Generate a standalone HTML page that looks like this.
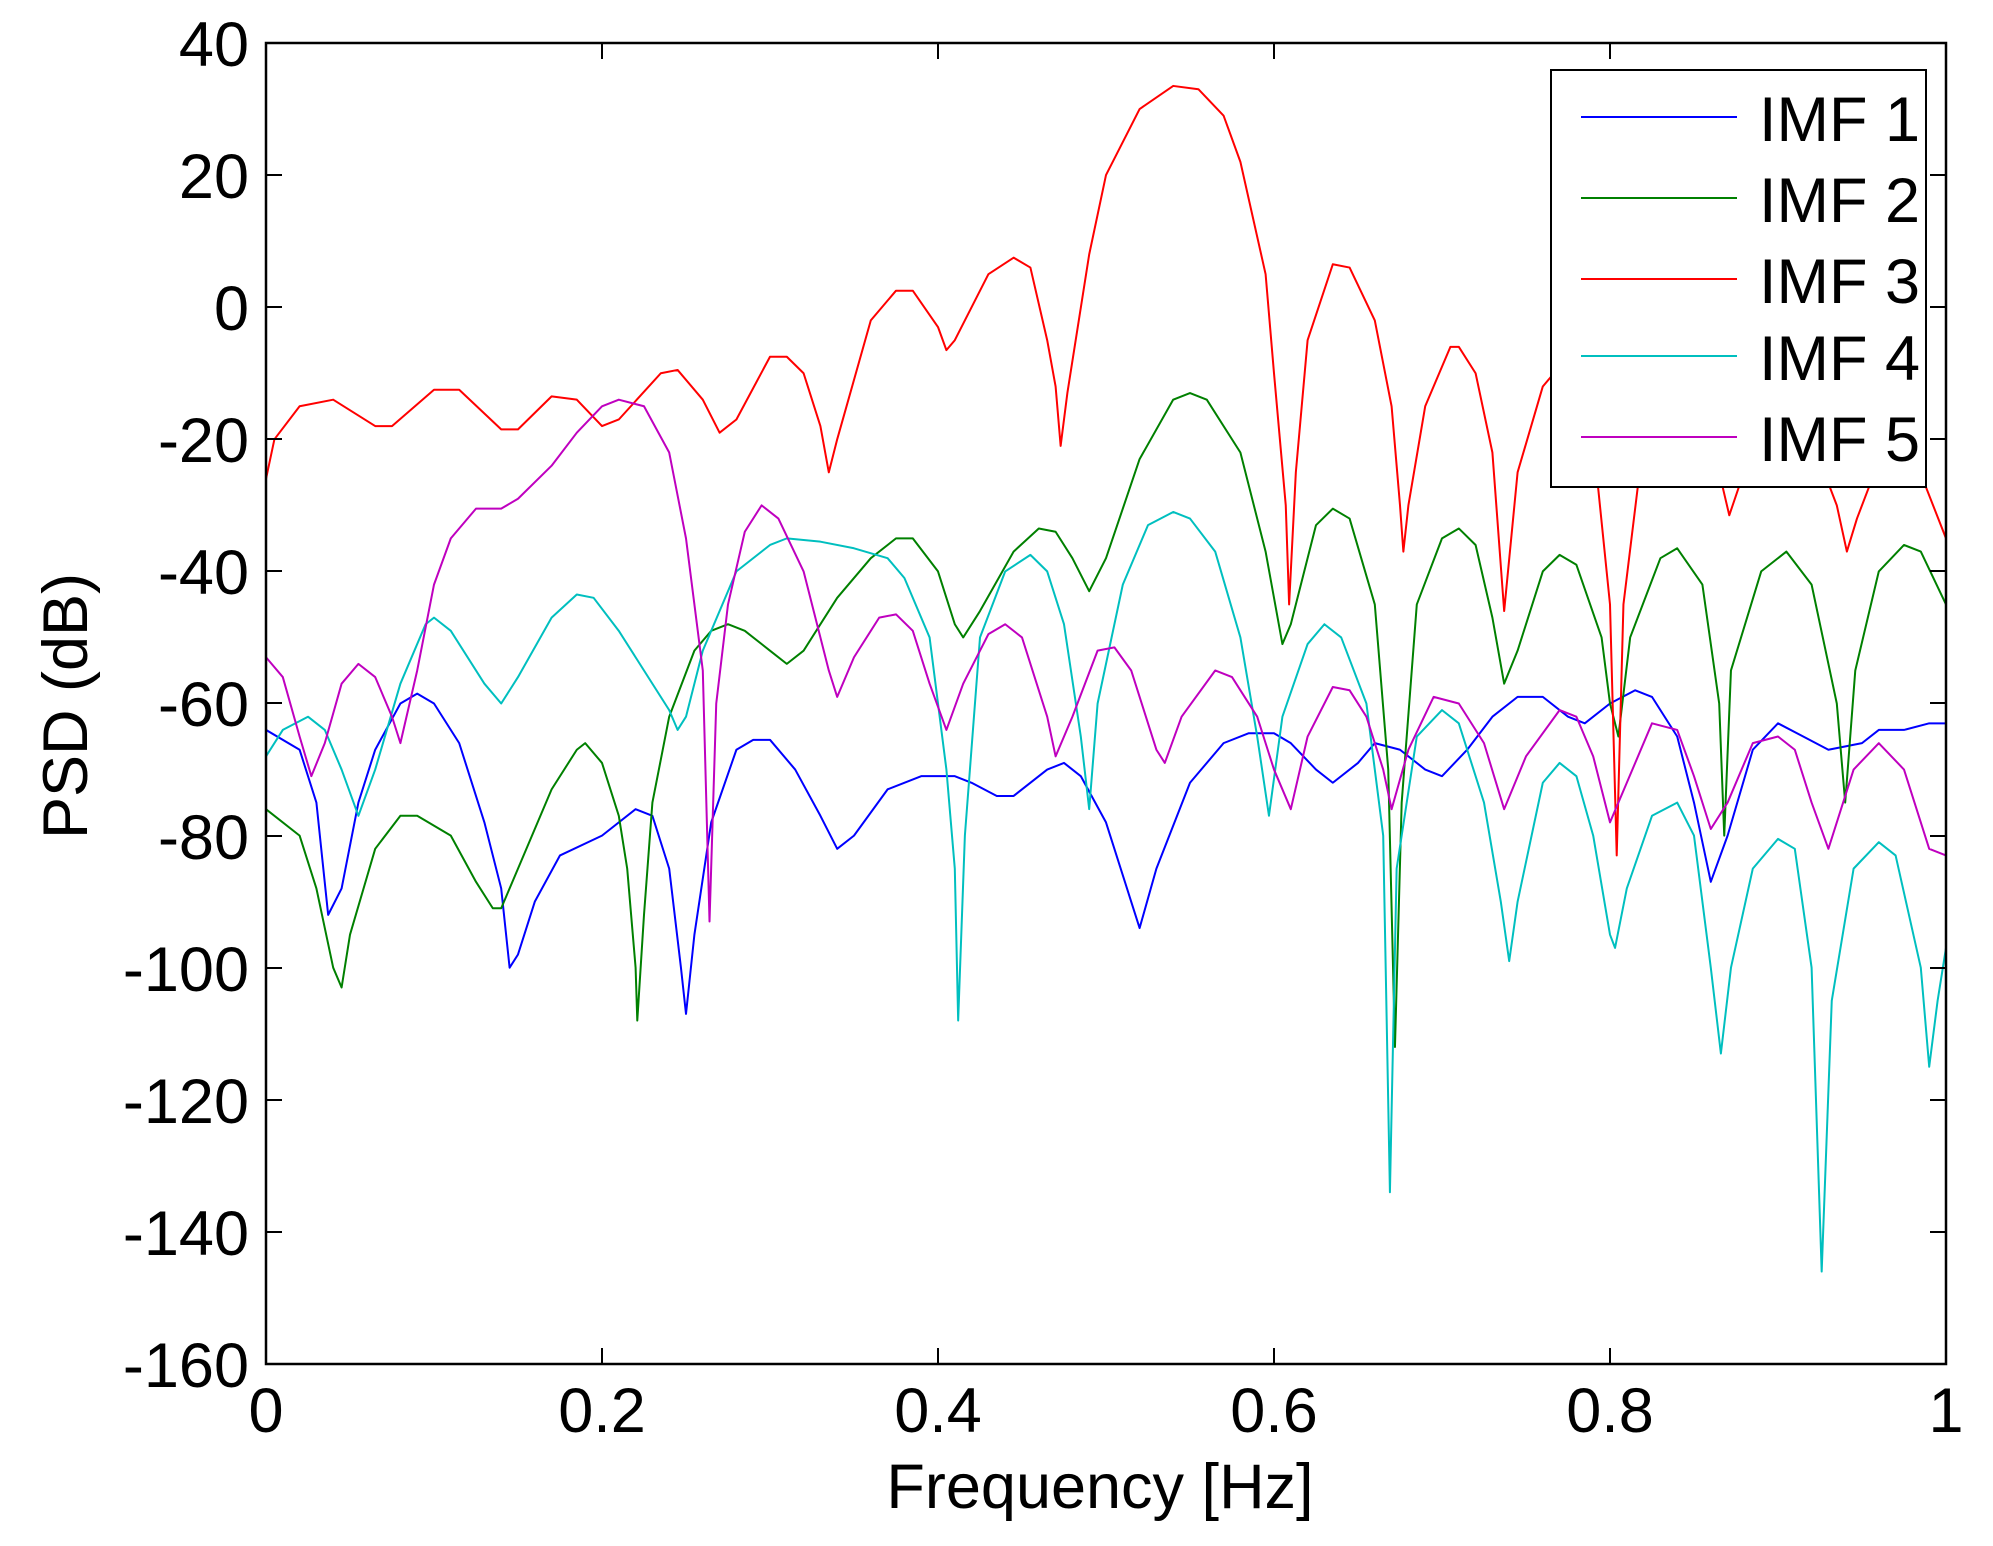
<!DOCTYPE html>
<html><head><meta charset="utf-8"><style>
html,body{margin:0;padding:0;background:#fff;}
svg{display:block;}
text{font-family:"Liberation Sans",Arial,sans-serif;fill:#000;}
</style></head><body>
<svg width="1993" height="1546" viewBox="0 0 1993 1546" xmlns="http://www.w3.org/2000/svg">
<rect width="1993" height="1546" fill="#fff"/>
<defs><clipPath id="c"><rect x="266" y="43" width="1680" height="1321"/></clipPath></defs>
<g clip-path="url(#c)">
<g transform="matrix(1680,0,0,-6.605,266,307.2)" fill="none" stroke-width="2" stroke-linejoin="round">
<polyline vector-effect="non-scaling-stroke" stroke="#0000ff" points="0,-64 0.02,-67 0.03,-75 0.037,-92 0.045,-88 0.055,-75 0.065,-67 0.08,-60 0.09,-58.5 0.1,-60 0.115,-66 0.13,-78 0.14,-88 0.145,-100 0.15,-98 0.16,-90 0.175,-83 0.2,-80 0.22,-76 0.23,-77 0.24,-85 0.247,-100 0.25,-107 0.255,-95 0.265,-78 0.28,-67 0.29,-65.5 0.3,-65.5 0.315,-70 0.33,-77 0.34,-82 0.35,-80 0.37,-73 0.39,-71 0.41,-71 0.42,-72 0.435,-74 0.445,-74 0.465,-70 0.475,-69 0.485,-71 0.5,-78 0.515,-90 0.52,-94 0.53,-85 0.55,-72 0.57,-66 0.585,-64.5 0.6,-64.5 0.61,-66 0.625,-70 0.635,-72 0.65,-69 0.66,-66 0.675,-67 0.69,-70 0.7,-71 0.715,-67 0.73,-62 0.745,-59 0.76,-59 0.775,-62 0.785,-63 0.8,-60 0.815,-58 0.825,-59 0.84,-65 0.85,-75 0.86,-87 0.87,-80 0.885,-67 0.9,-63 0.915,-65 0.93,-67 0.95,-66 0.96,-64 0.975,-64 0.99,-63 1,-63"/>
<polyline vector-effect="non-scaling-stroke" stroke="#008000" points="0,-76 0.02,-80 0.03,-88 0.04,-100 0.045,-103 0.05,-95 0.065,-82 0.08,-77 0.09,-77 0.11,-80 0.125,-87 0.135,-91 0.14,-91 0.15,-85 0.17,-73 0.185,-67 0.19,-66 0.2,-69 0.21,-77 0.215,-85 0.22,-100 0.221,-108 0.225,-92 0.23,-75 0.24,-62 0.255,-52 0.265,-49 0.275,-48 0.285,-49 0.3,-52 0.31,-54 0.32,-52 0.34,-44 0.36,-38 0.375,-35 0.385,-35 0.4,-40 0.41,-48 0.415,-50 0.425,-46 0.445,-37 0.46,-33.5 0.47,-34 0.48,-38 0.49,-43 0.5,-38 0.52,-23 0.54,-14 0.55,-13 0.56,-14 0.58,-22 0.595,-37 0.605,-51 0.61,-48 0.625,-33 0.635,-30.5 0.645,-32 0.66,-45 0.668,-70 0.672,-112 0.676,-75 0.685,-45 0.7,-35 0.71,-33.5 0.72,-36 0.73,-47 0.737,-57 0.745,-52 0.76,-40 0.77,-37.5 0.78,-39 0.795,-50 0.8,-60 0.805,-65 0.812,-50 0.83,-38 0.84,-36.5 0.855,-42 0.865,-60 0.868,-80 0.872,-55 0.89,-40 0.905,-37 0.92,-42 0.935,-60 0.94,-75 0.946,-55 0.96,-40 0.975,-36 0.985,-37 1,-45"/>
<polyline vector-effect="non-scaling-stroke" stroke="#ff0000" points="0,-26 0.005,-20 0.02,-15 0.04,-14 0.065,-18 0.075,-18 0.1,-12.5 0.115,-12.5 0.14,-18.5 0.15,-18.5 0.17,-13.5 0.185,-14 0.2,-18 0.21,-17 0.235,-10 0.245,-9.5 0.26,-14 0.27,-19 0.28,-17 0.3,-7.5 0.31,-7.5 0.32,-10 0.33,-18 0.335,-25 0.34,-20 0.36,-2 0.375,2.5 0.385,2.5 0.4,-3 0.405,-6.5 0.41,-5 0.43,5 0.445,7.5 0.455,6 0.465,-5 0.47,-12 0.473,-21 0.477,-13 0.49,8 0.5,20 0.52,30 0.54,33.5 0.555,33 0.57,29 0.58,22 0.595,5 0.6,-10 0.607,-30 0.609,-45 0.613,-25 0.62,-5 0.635,6.5 0.645,6 0.66,-2 0.67,-15 0.675,-30 0.677,-37 0.68,-30 0.69,-15 0.705,-6 0.71,-6 0.72,-10 0.73,-22 0.737,-46 0.745,-25 0.76,-12 0.77,-9 0.78,-10 0.79,-20 0.8,-45 0.804,-83 0.808,-45 0.82,-20 0.835,-12 0.85,-15 0.865,-25 0.871,-31.5 0.877,-27 0.9,-15 0.92,-20 0.935,-30 0.941,-37 0.947,-32 0.965,-20 0.98,-22 1,-35"/>
<polyline vector-effect="non-scaling-stroke" stroke="#00bfbf" points="0,-68 0.01,-64 0.025,-62 0.035,-64 0.045,-70 0.055,-77 0.065,-70 0.08,-57 0.095,-48 0.1,-47 0.11,-49 0.13,-57 0.14,-60 0.15,-56 0.17,-47 0.185,-43.5 0.195,-44 0.21,-49 0.225,-55 0.24,-61 0.245,-64 0.25,-62 0.26,-52 0.28,-40 0.3,-36 0.31,-35 0.33,-35.5 0.35,-36.5 0.37,-38 0.38,-41 0.395,-50 0.405,-70 0.41,-85 0.412,-108 0.416,-80 0.425,-50 0.44,-40 0.455,-37.5 0.465,-40 0.475,-48 0.485,-65 0.49,-76 0.495,-60 0.51,-42 0.525,-33 0.54,-31 0.55,-32 0.565,-37 0.58,-50 0.59,-65 0.597,-77 0.605,-62 0.62,-51 0.63,-48 0.64,-50 0.655,-60 0.665,-80 0.669,-134 0.673,-85 0.685,-65 0.7,-61 0.71,-63 0.725,-75 0.735,-90 0.74,-99 0.745,-90 0.76,-72 0.77,-69 0.78,-71 0.79,-80 0.8,-95 0.803,-97 0.81,-88 0.825,-77 0.84,-75 0.85,-80 0.86,-100 0.866,-113 0.872,-100 0.885,-85 0.9,-80.5 0.91,-82 0.92,-100 0.926,-146 0.932,-105 0.945,-85 0.96,-81 0.97,-83 0.985,-100 0.99,-115 0.995,-105 1,-97"/>
<polyline vector-effect="non-scaling-stroke" stroke="#bf00bf" points="0,-53 0.01,-56 0.02,-65 0.027,-71 0.035,-66 0.045,-57 0.055,-54 0.065,-56 0.075,-62 0.08,-66 0.09,-55 0.1,-42 0.11,-35 0.125,-30.5 0.14,-30.5 0.15,-29 0.17,-24 0.185,-19 0.2,-15 0.21,-14 0.225,-15 0.24,-22 0.25,-35 0.26,-55 0.264,-93 0.268,-60 0.275,-45 0.285,-34 0.295,-30 0.305,-32 0.32,-40 0.335,-55 0.34,-59 0.35,-53 0.365,-47 0.375,-46.5 0.385,-49 0.395,-57 0.405,-64 0.415,-57 0.43,-49.5 0.44,-48 0.45,-50 0.465,-62 0.47,-68 0.48,-62 0.495,-52 0.505,-51.5 0.515,-55 0.53,-67 0.535,-69 0.545,-62 0.565,-55 0.575,-56 0.59,-62 0.6,-70 0.61,-76 0.62,-65 0.635,-57.5 0.645,-58 0.655,-62 0.665,-70 0.67,-76 0.68,-67 0.695,-59 0.71,-60 0.725,-66 0.737,-76 0.75,-68 0.77,-61 0.78,-62 0.79,-68 0.8,-78 0.81,-72 0.825,-63 0.84,-64 0.85,-71 0.86,-79 0.87,-75 0.885,-66 0.9,-65 0.91,-67 0.92,-75 0.93,-82 0.945,-70 0.96,-66 0.975,-70 0.99,-82 1,-83"/>
</g>
</g>
<g stroke="#000" stroke-width="2" fill="none">
<rect x="266" y="43" width="1680" height="1321" stroke-width="2.5"/>
<path d="M266,175H282M266,307H282M266,439H282M266,571H282M266,703H282M266,836H282M266,968H282M266,1100H282M266,1232H282
M1946,175H1930M1946,307H1930M1946,439H1930M1946,571H1930M1946,703H1930M1946,836H1930M1946,968H1930M1946,1100H1930M1946,1232H1930
M602,1364V1348M938,1364V1348M1274,1364V1348M1610,1364V1348
M602,43V59M938,43V59M1274,43V59M1610,43V59"/>
</g>
<g font-size="63" text-anchor="end">
<text x="249" y="66">40</text><text x="249" y="198">20</text><text x="249" y="330">0</text>
<text x="249" y="462">-20</text><text x="249" y="594">-40</text><text x="249" y="726">-60</text>
<text x="249" y="859">-80</text><text x="249" y="991">-100</text><text x="249" y="1123">-120</text>
<text x="249" y="1255">-140</text><text x="249" y="1387">-160</text>
</g>
<g font-size="63" text-anchor="middle">
<text x="266" y="1432">0</text><text x="602" y="1432">0.2</text><text x="938" y="1432">0.4</text>
<text x="1274" y="1432">0.6</text><text x="1610" y="1432">0.8</text><text x="1946" y="1432">1</text>
<text x="1100" y="1508">Frequency [Hz]</text>
<text transform="translate(87,706) rotate(-90)">PSD (dB)</text>
</g>
<rect x="1551" y="70" width="375" height="417" fill="#fff" stroke="#000" stroke-width="2"/>
<g stroke-width="2">
<line x1="1581" x2="1737" y1="117" y2="117" stroke="#0000ff"/>
<line x1="1581" x2="1737" y1="198" y2="198" stroke="#008000"/>
<line x1="1581" x2="1737" y1="279" y2="279" stroke="#ff0000"/>
<line x1="1581" x2="1737" y1="356" y2="356" stroke="#00bfbf"/>
<line x1="1581" x2="1737" y1="437" y2="437" stroke="#bf00bf"/>
</g>
<g font-size="63">
<text x="1759" y="141">IMF 1</text><text x="1759" y="222">IMF 2</text><text x="1759" y="303">IMF 3</text>
<text x="1759" y="380">IMF 4</text><text x="1759" y="461">IMF 5</text>
</g>
</svg>
</body></html>
